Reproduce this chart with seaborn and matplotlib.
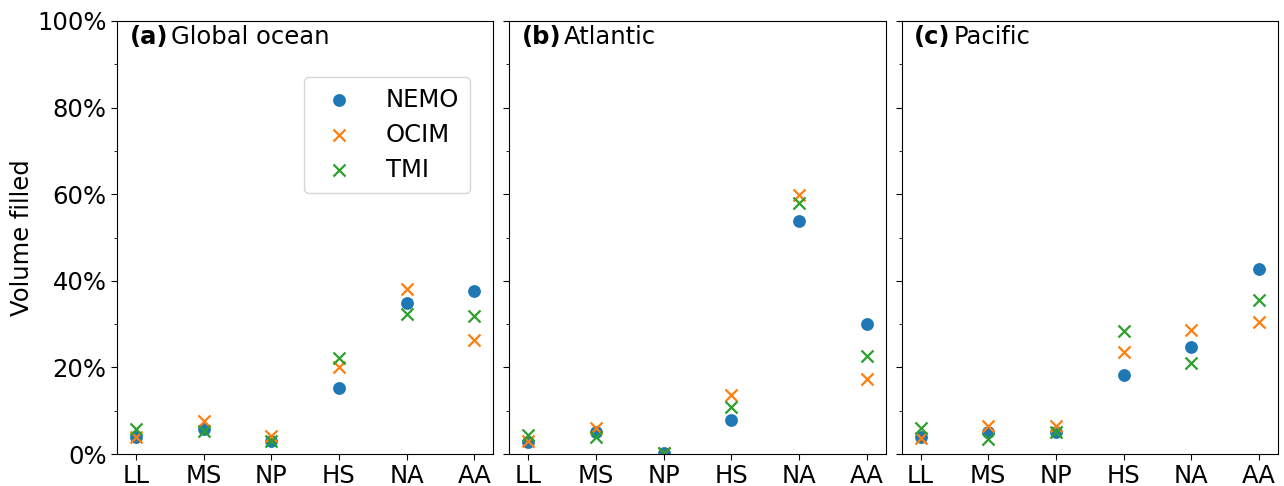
import matplotlib
matplotlib.use("Agg")
import matplotlib.pyplot as plt
from matplotlib.ticker import MultipleLocator, PercentFormatter
import seaborn as sns
import pandas as pd

regions = ["LL", "MS", "NP", "HS", "NA", "AA"]
models = ["NEMO", "OCIM", "TMI"]

# Volume filled (%) per water-mass region
global_nemo = [4.0, 5.7, 3.1, 15.3, 34.9, 37.6]
global_ocim = [4.0, 7.7, 4.1, 20.2, 38.0, 26.3]
global_tmi = [5.7, 5.4, 3.1, 22.2, 32.4, 31.9]

atlantic_nemo = [2.7, 5.2, 0.3, 7.8, 53.7, 30.1]
atlantic_ocim = [2.9, 5.9, 0.3, 13.7, 59.9, 17.3]
atlantic_tmi = [4.5, 3.9, 0.2, 10.8, 58.0, 22.7]

pacific_nemo = [4.0, 5.0, 5.1, 18.3, 24.6, 42.8]
pacific_ocim = [3.8, 6.5, 6.5, 23.6, 28.6, 30.5]
pacific_tmi = [6.1, 3.4, 5.2, 28.4, 21.1, 35.5]

panel_tags = ["(a)", "(b)", "(c)"]
panel_names = ["Global ocean", "Atlantic", "Pacific"]
basins = [
    [global_nemo, global_ocim, global_tmi],
    [atlantic_nemo, atlantic_ocim, atlantic_tmi],
    [pacific_nemo, pacific_ocim, pacific_tmi],
]

FS = 17.5

sns.set_style("ticks")
plt.rcParams["font.family"] = ["DejaVu Sans"]
plt.rcParams.update({
    "font.size": FS,
    "text.color": "black",
    "axes.labelcolor": "black",
    "xtick.color": "black",
    "ytick.color": "black",
    "axes.edgecolor": "black",
})

colors = sns.color_palette("tab10", 3)
markers = {"NEMO": "o", "OCIM": "x", "TMI": "x"}

fig, axes = plt.subplots(1, 3, figsize=(12.84, 4.86), dpi=100, sharey=True)
fig.subplots_adjust(left=0.0911, right=0.9953, top=0.9568, bottom=0.0658, wspace=0.0424)

for ax, tag, name, series in zip(axes, panel_tags, panel_names, basins):
    for model, vals, col in zip(models, series, colors):
        df = pd.DataFrame({"region": regions, "value": vals})
        if markers[model] == "o":
            sns.scatterplot(data=df, x="region", y="value", ax=ax, color=col,
                            marker="o", s=85, linewidth=0, label=model)
        else:
            sns.scatterplot(data=df, x="region", y="value", ax=ax, color=col,
                            marker="x", s=75, linewidth=1.6, label=model)
    ax.set_xlim(-0.28, 5.28)
    ax.set_ylim(0, 100)
    ax.yaxis.set_major_locator(MultipleLocator(20))
    ax.yaxis.set_minor_locator(MultipleLocator(10))
    ax.yaxis.set_major_formatter(PercentFormatter(decimals=0))
    ax.set_xlabel("")
    ax.set_ylabel("")
    ax.tick_params(axis="both", labelsize=FS, length=4, colors="black")
    ax.tick_params(axis="y", which="minor", length=2.5, colors="black")
    for sp in ax.spines.values():
        sp.set_visible(True)
        sp.set_color("black")
        sp.set_linewidth(0.8)
    t = ax.text(0.033, 0.99, tag, transform=ax.transAxes, fontsize=FS,
                fontweight="bold", ha="left", va="top", color="black")
    ax.annotate(name, xy=(1, 0), xycoords=t, xytext=(2, 0),
                textcoords="offset points", fontsize=FS, ha="left", va="bottom",
                color="black")
    leg = ax.get_legend()
    if leg is not None:
        leg.remove()

axes[0].set_ylabel("Volume filled", fontsize=FS, color="black", labelpad=2)
handles, labels = axes[0].get_legend_handles_labels()
axes[0].legend(handles, labels, loc="upper right", bbox_to_anchor=(0.970, 0.899),
               fontsize=FS, handletextpad=0.9, borderpad=0.45, labelspacing=0.45)

fig.savefig("out.png", dpi=100)
